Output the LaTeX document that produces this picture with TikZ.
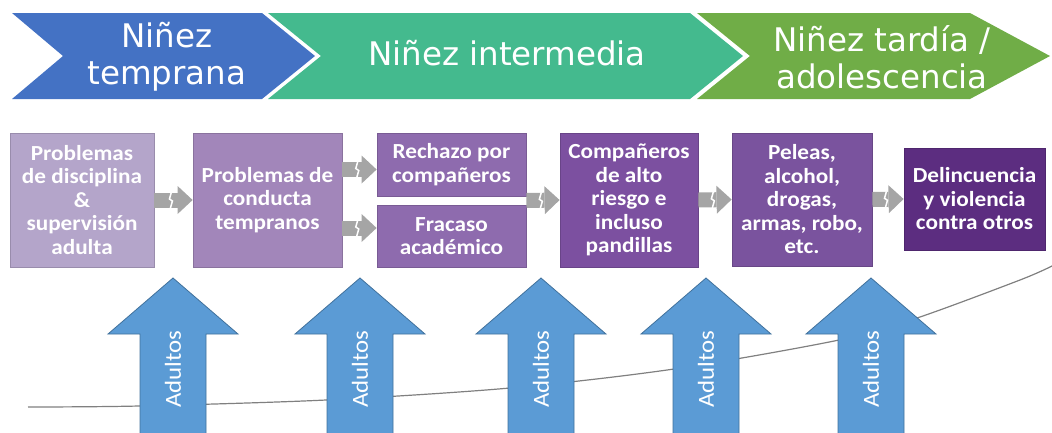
\documentclass[tikz,border=0pt]{standalone}
\usepackage{fontspec}
\setmainfont{Carlito}
\newfontfamily\headfont{DejaVu Sans}
\newfontfamily\boxfont{Carlito}[FakeStretch=1.08]
\usetikzlibrary{arrows.meta,calc}
\definecolor{chblue}{HTML}{4472C4}
\definecolor{chteal}{HTML}{44BA8E}
\definecolor{chgreen}{HTML}{70AD47}
\definecolor{boxa}{HTML}{B4A5CA}
\definecolor{boxb}{HTML}{A286BA}
\definecolor{boxc}{HTML}{8E6BAE}
\definecolor{boxd}{HTML}{7C50A0}
\definecolor{boxe}{HTML}{7A539E}
\definecolor{boxf}{HTML}{5C2D80}
\definecolor{arrowgray}{HTML}{A5A5A5}
\definecolor{upblue}{HTML}{5B9BD5}
\definecolor{upedge}{HTML}{41719C}
\definecolor{curvegray}{HTML}{808080}

\begin{document}
\begin{tikzpicture}[x=1pt,y=-1pt,
  stagetext/.style={text=white,font=\headfont\fontsize{32.5}{37}\selectfont,align=center},
  box/.style={draw=#1!85!black,line width=0.8pt,fill=#1,text=white,align=center,inner sep=0pt,
    font=\boxfont\bfseries\fontsize{21.5}{23.5}\selectfont},
  gaparrow/.style={draw=arrowgray,line width=15pt,-{Triangle[width=28pt,length=15pt,line width=0pt]}},
  gapcut/.style={draw=white,line width=1.5pt},
  adulto/.style={rotate=90,text=white,font=\boxfont\fontsize{23}{27}\selectfont}]

  \useasboundingbox (0,0) rectangle (1052,432);

  % stages
  \fill[chblue] (12,13) -- (262,13) -- (315,56) -- (262,99) -- (12,99) -- (63,56) -- cycle;
  \fill[chteal] (268,13) -- (690,13) -- (743,56) -- (690,99) -- (268,99) -- (321,56) -- cycle;
  \fill[chgreen] (697,13) -- (970,13) -- (1050,56) -- (970,99) -- (697,99) -- (750,56) -- cycle;
  \node[stagetext] (h1) at (167,57) {Niñez\\temprana};
  \node[stagetext] (h2) at (507,53) {Niñez intermedia};
  \node[stagetext] (h3) at (882,57) {Niñez tardía /\\adolescencia};

  % risk boxes
  \node[box=boxa,minimum width=144pt,minimum height=134pt] (b1) at (82,200)
    {Problemas\\de disciplina\\\&\\supervisión\\adulta};
  \node[box=boxb,minimum width=149pt,minimum height=134pt] (b2) at (267.5,200)
    {Problemas de\\conducta\\tempranos};
  \node[box=boxc,minimum width=149pt,minimum height=63pt] (b3) at (451.5,164.5)
    {Rechazo por\\compañeros};
  \node[box=boxc,minimum width=149pt,minimum height=62pt] (b4) at (451.5,236)
    {Fracaso\\académico};
  \node[box=boxd,minimum width=138pt,minimum height=134pt] (b5) at (629,200)
    {Compañeros\\de alto\\riesgo e\\incluso\\pandillas};
  \node[box=boxe,minimum width=140pt,minimum height=133pt] (b6) at (802,199.5)
    {Peleas,\\alcohol,\\drogas,\\armas, robo,\\etc.};
  \node[box=boxf,minimum width=141pt,minimum height=102pt] (b7) at (974.5,199)
    {Delincuencia\\y violencia\\contra otros};

  % arrow ends
  \coordinate (e3) at ([yshift=-5pt]b3.west);
  \coordinate (e4) at ([yshift=8pt]b4.west);
  \coordinate (s3) at (b2.east |- e3);
  \coordinate (s4) at (b2.east |- e4);
  \coordinate (s5) at ($(b3.south east)!0.5!(b4.north east)$);

  \foreach \s/\t in {b1.east/b2.west, s3/e3, s4/e4, s5/b5.west, b5.east/b6.west, b6.east/b7.west} {
    \draw[gaparrow] (\s) -- (\t) coordinate[pos=0.42] (m);
    \draw[gapcut] ([xshift=1pt,yshift=8pt]m) -- ([xshift=-1pt,yshift=1pt]m)
      -- ([xshift=2pt,yshift=-1pt]m) -- ([xshift=0pt,yshift=-8pt]m);
  }

  % rising line
  \draw[curvegray,line width=1.2pt] plot[smooth] coordinates
    {(28,407) (139,406) (326,400) (510,388) (674,369) (839,340) (917,318) (1020,280) (1052,266)};

  % adult support
  \foreach \cx [count=\i] in {173,360,541,706,871} {
    \filldraw[fill=upblue,draw=upedge,line width=0.8pt] (\cx,278) -- (\cx+65,334) -- (\cx+33,334)
      -- (\cx+33,440) -- (\cx-33,440) -- (\cx-33,334) -- (\cx-65,334) -- cycle;
    \node[adulto] (ad\i) at (\cx,369) {Adultos};
  }
\end{tikzpicture}
\end{document}
